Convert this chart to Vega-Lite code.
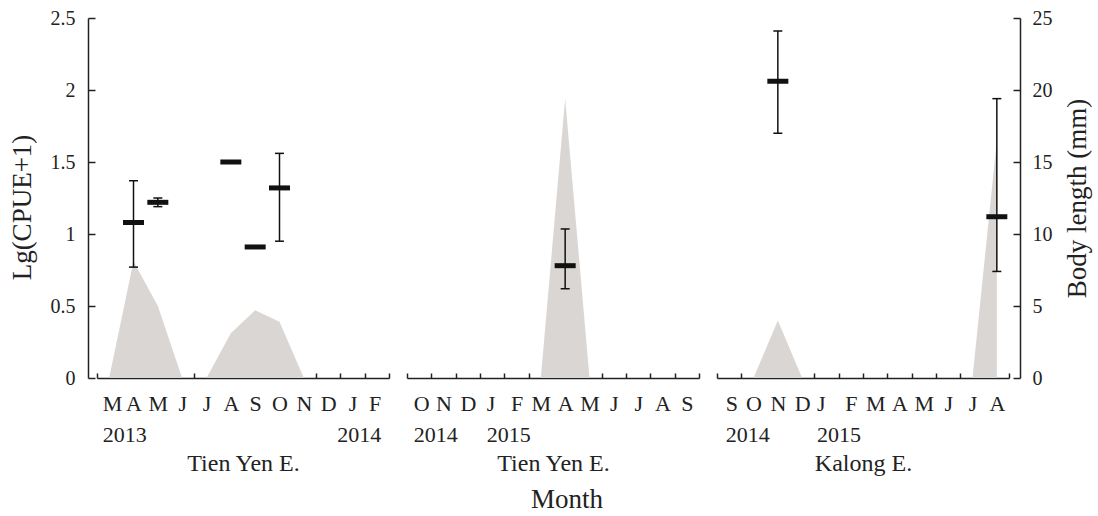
{
  "$schema": "https://vega.github.io/schema/vega-lite/v6.json",
  "background": "white",
  "padding": {"left": 8, "top": 8, "right": 5, "bottom": 5},
  "bounds": "flush",
  "config": {
    "font": "Liberation Serif",
    "view": {"stroke": null},
    "axis": {
      "grid": false,
      "domainColor": "#222",
      "domainWidth": 1.5,
      "tickColor": "#222",
      "tickWidth": 1.5,
      "labelColor": "#222",
      "titleColor": "#222",
      "labelFont": "Liberation Serif",
      "titleFont": "Liberation Serif",
      "titleFontWeight": "normal"
    },
    "tick": {"opacity": 1},
    "concat": {"spacing": 18}
  },
  "title": {"text": "Month", "orient": "bottom", "anchor": "start", "dx": 523, "fontSize": 27, "fontWeight": "normal", "font": "Liberation Serif", "color": "#222", "offset": 12},
  "datasets": {
    "cpue1": [
      {"month": "00M", "cpue": 0}, {"month": "01A", "cpue": 0.81}, {"month": "02M", "cpue": 0.5},
      {"month": "03J", "cpue": 0}, {"month": "04J", "cpue": 0}, {"month": "05A", "cpue": 0.31},
      {"month": "06S", "cpue": 0.47}, {"month": "07O", "cpue": 0.39}, {"month": "08N", "cpue": 0},
      {"month": "09D", "cpue": 0}, {"month": "10J", "cpue": 0}, {"month": "11F", "cpue": 0}
    ],
    "cpue2": [
      {"month": "00O", "cpue": 0}, {"month": "01N", "cpue": 0}, {"month": "02D", "cpue": 0},
      {"month": "03J", "cpue": 0}, {"month": "04F", "cpue": 0}, {"month": "05M", "cpue": 0},
      {"month": "06A", "cpue": 1.94}, {"month": "07M", "cpue": 0}, {"month": "08J", "cpue": 0},
      {"month": "09J", "cpue": 0}, {"month": "10A", "cpue": 0}, {"month": "11S", "cpue": 0}
    ],
    "cpue3": [
      {"month": "00S", "cpue": 0}, {"month": "01O", "cpue": 0}, {"month": "02N", "cpue": 0.4},
      {"month": "03D", "cpue": 0}, {"month": "04J", "cpue": 0}, {"month": "05F", "cpue": 0},
      {"month": "06M", "cpue": 0}, {"month": "07A", "cpue": 0}, {"month": "08M", "cpue": 0},
      {"month": "09J", "cpue": 0}, {"month": "10J", "cpue": 0}, {"month": "11A", "cpue": 1.65}
    ],
    "bl1": [
      {"month": "01A", "mean": 10.8, "lo": 7.7, "hi": 13.7},
      {"month": "02M", "mean": 12.2, "lo": 11.9, "hi": 12.5},
      {"month": "05A", "mean": 15.0},
      {"month": "06S", "mean": 9.1},
      {"month": "07O", "mean": 13.2, "lo": 9.5, "hi": 15.6}
    ],
    "bl2": [
      {"month": "06A", "mean": 7.8, "lo": 6.2, "hi": 10.35}
    ],
    "bl3": [
      {"month": "02N", "mean": 20.6, "lo": 17.0, "hi": 24.1},
      {"month": "11A", "mean": 11.2, "lo": 7.4, "hi": 19.4}
    ]
  },
  "hconcat": [
    {
      "width": 292,
      "height": 360,
      "layer": [
        {
          "data": {"name": "cpue1"},
          "mark": {"type": "area", "color": "#dad6d3"},
          "encoding": {
            "x": {
              "field": "month", "type": "ordinal", "bandPosition": 0.5,
              "scale": {"type": "band", "paddingInner": 0, "paddingOuter": 0},
              "axis": {
                "title": "Tien Yen E.", "titleFontSize": 24, "titlePadding": 6,
                "labelFontSize": 22, "labelAngle": 0, "labelPadding": 20, "labelLineHeight": 31,
                "labelBaseline": "top", "labelOverlap": false, "labelBound": false, "labelFlush": false,
                "tickBand": "extent", "tickSize": -5,
                "labelExpr": "!isValid(datum.value) ? '' : datum.value == '00M' ? ['M', '2013'] : datum.value == '11F' ? ['F', '2014'] : substring(datum.value, 2)",
                "labelAlign": {"condition": [{"test": "datum.value == '00M'", "value": "left"}, {"test": "datum.value == '11F'", "value": "right"}], "value": "center"},
                "labelOffset": {"condition": [{"test": "datum.value == '00M'", "value": -7}, {"test": "datum.value == '11F'", "value": 4}], "value": 0}
              }
            },
            "y": {
              "field": "cpue", "type": "quantitative",
              "scale": {"domain": [0, 2.5]},
              "axis": {
                "orient": "left", "offset": 9, "title": "Lg(CPUE+1)", "titleFontSize": 27,
                "labelFontSize": 20, "tickSize": -7, "labelPadding": 20, "values": [0, 0.5, 1, 1.5, 2, 2.5],
                "format": "~g", "titlePadding": 14, "titleY": 189
              }
            }
          }
        },
        {
          "data": {"name": "bl1"},
          "mark": {"type": "rule", "color": "#111", "strokeWidth": 1.5},
          "encoding": {
            "x": {"field": "month", "type": "ordinal", "bandPosition": 0.5},
            "y": {"field": "lo", "type": "quantitative", "scale": {"domain": [0, 25]}, "axis": null},
            "y2": {"field": "hi"}
          }
        },
        {
          "data": {"name": "bl1"},
          "mark": {"type": "tick", "color": "#111", "thickness": 1.5, "size": 9},
          "encoding": {
            "x": {"field": "month", "type": "ordinal"},
            "y": {"field": "lo", "type": "quantitative", "scale": {"domain": [0, 25]}, "axis": null}
          }
        },
        {
          "data": {"name": "bl1"},
          "mark": {"type": "tick", "color": "#111", "thickness": 1.5, "size": 9},
          "encoding": {
            "x": {"field": "month", "type": "ordinal"},
            "y": {"field": "hi", "type": "quantitative", "scale": {"domain": [0, 25]}, "axis": null}
          }
        },
        {
          "data": {"name": "bl1"},
          "mark": {"type": "tick", "color": "#111", "thickness": 5, "size": 21},
          "encoding": {
            "x": {"field": "month", "type": "ordinal"},
            "y": {"field": "mean", "type": "quantitative", "scale": {"domain": [0, 25]}, "axis": null}
          }
        }
      ],
      "resolve": {"scale": {"y": "independent"}}
    },
    {
      "width": 292,
      "height": 360,
      "layer": [
        {
          "data": {"name": "cpue2"},
          "mark": {"type": "area", "color": "#dad6d3"},
          "encoding": {
            "x": {
              "field": "month", "type": "ordinal", "bandPosition": 0.5,
              "scale": {"type": "band", "paddingInner": 0, "paddingOuter": 0},
              "axis": {
                "title": "Tien Yen E.", "titleFontSize": 24, "titlePadding": 6,
                "labelFontSize": 22, "labelAngle": 0, "labelPadding": 20, "labelLineHeight": 31,
                "labelBaseline": "top", "labelOverlap": false, "labelBound": false, "labelFlush": false,
                "tickBand": "extent", "tickSize": -5,
                "labelExpr": "!isValid(datum.value) ? '' : datum.value == '00O' ? ['O', '2014'] : datum.value == '03J' ? ['J', '2015'] : substring(datum.value, 2)",
                "labelAlign": {"condition": {"test": "datum.value == '00O' || datum.value == '03J'", "value": "left"}, "value": "center"},
                "labelOffset": {"condition": {"test": "datum.value == '00O' || datum.value == '03J'", "value": -6}, "value": 0}
              }
            },
            "y": {"field": "cpue", "type": "quantitative", "scale": {"domain": [0, 2.5]}, "axis": null}
          }
        },
        {
          "data": {"name": "bl2"},
          "mark": {"type": "rule", "color": "#111", "strokeWidth": 1.5},
          "encoding": {
            "x": {"field": "month", "type": "ordinal", "bandPosition": 0.5},
            "y": {"field": "lo", "type": "quantitative", "scale": {"domain": [0, 25]}, "axis": null},
            "y2": {"field": "hi"}
          }
        },
        {
          "data": {"name": "bl2"},
          "mark": {"type": "tick", "color": "#111", "thickness": 1.5, "size": 9},
          "encoding": {
            "x": {"field": "month", "type": "ordinal"},
            "y": {"field": "lo", "type": "quantitative", "scale": {"domain": [0, 25]}, "axis": null}
          }
        },
        {
          "data": {"name": "bl2"},
          "mark": {"type": "tick", "color": "#111", "thickness": 1.5, "size": 9},
          "encoding": {
            "x": {"field": "month", "type": "ordinal"},
            "y": {"field": "hi", "type": "quantitative", "scale": {"domain": [0, 25]}, "axis": null}
          }
        },
        {
          "data": {"name": "bl2"},
          "mark": {"type": "tick", "color": "#111", "thickness": 5, "size": 21},
          "encoding": {
            "x": {"field": "month", "type": "ordinal"},
            "y": {"field": "mean", "type": "quantitative", "scale": {"domain": [0, 25]}, "axis": null}
          }
        }
      ],
      "resolve": {"scale": {"y": "independent"}}
    },
    {
      "width": 292,
      "height": 360,
      "layer": [
        {
          "data": {"name": "cpue3"},
          "mark": {"type": "area", "color": "#dad6d3"},
          "encoding": {
            "x": {
              "field": "month", "type": "ordinal", "bandPosition": 0.5,
              "scale": {"type": "band", "paddingInner": 0, "paddingOuter": 0},
              "axis": {
                "title": "Kalong E.", "titleFontSize": 24, "titlePadding": 6,
                "labelFontSize": 22, "labelAngle": 0, "labelPadding": 20, "labelLineHeight": 31,
                "labelBaseline": "top", "labelOverlap": false, "labelBound": false, "labelFlush": false,
                "tickBand": "extent", "tickSize": -5,
                "labelExpr": "!isValid(datum.value) ? '' : datum.value == '00S' ? ['S', '2014'] : datum.value == '04J' ? ['J', '2015'] : substring(datum.value, 2)",
                "labelAlign": {"condition": {"test": "datum.value == '00S' || datum.value == '04J'", "value": "left"}, "value": "center"},
                "labelOffset": {"condition": [{"test": "datum.value == '00S'", "value": -4}, {"test": "datum.value == '04J'", "value": -10}], "value": 0}
              }
            },
            "y": {"field": "cpue", "type": "quantitative", "scale": {"domain": [0, 2.5]}, "axis": null}
          }
        },
        {
          "data": {"name": "bl3"},
          "mark": {"type": "rule", "color": "#111", "strokeWidth": 1.5},
          "encoding": {
            "x": {"field": "month", "type": "ordinal", "bandPosition": 0.5},
            "y": {
              "field": "lo", "type": "quantitative", "scale": {"domain": [0, 25]},
              "axis": {
                "orient": "right", "offset": 11, "title": "Body length (mm)", "titleFontSize": 27,
                "titleAngle": 270, "titleBaseline": "top", "labelFontSize": 20, "tickSize": -7, "labelPadding": 19,
                "values": [0, 5, 10, 15, 20, 25], "titlePadding": 12
              }
            },
            "y2": {"field": "hi"}
          }
        },
        {
          "data": {"name": "bl3"},
          "mark": {"type": "tick", "color": "#111", "thickness": 1.5, "size": 9},
          "encoding": {
            "x": {"field": "month", "type": "ordinal"},
            "y": {"field": "lo", "type": "quantitative", "scale": {"domain": [0, 25]}, "axis": null}
          }
        },
        {
          "data": {"name": "bl3"},
          "mark": {"type": "tick", "color": "#111", "thickness": 1.5, "size": 9},
          "encoding": {
            "x": {"field": "month", "type": "ordinal"},
            "y": {"field": "hi", "type": "quantitative", "scale": {"domain": [0, 25]}, "axis": null}
          }
        },
        {
          "data": {"name": "bl3"},
          "mark": {"type": "tick", "color": "#111", "thickness": 5, "size": 21},
          "encoding": {
            "x": {"field": "month", "type": "ordinal"},
            "y": {"field": "mean", "type": "quantitative", "scale": {"domain": [0, 25]}, "axis": null}
          }
        }
      ],
      "resolve": {"scale": {"y": "independent"}}
    }
  ],
  "resolve": {"scale": {"x": "independent", "y": "independent"}}
}
